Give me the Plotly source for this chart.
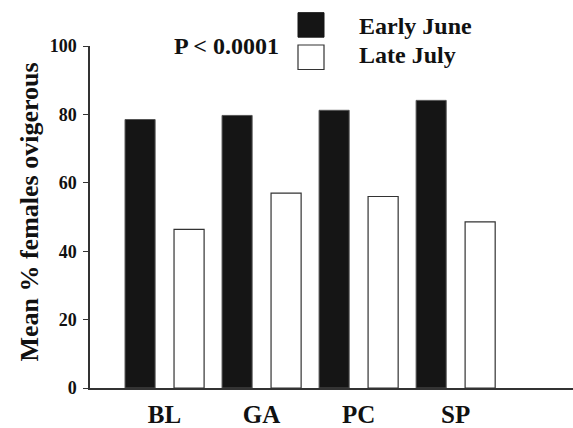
import plotly.graph_objects as go

sites = ["BL", "GA", "PC", "SP"]
early_june = [78.5, 79.7, 81.2, 84.1]
late_july = [46.4, 57.0, 56.0, 48.6]
y_ticks = [0, 20, 40, 60, 80, 100]

FONT = "Liberation Serif, Times New Roman, serif"

fig = go.Figure()
fig.add_trace(go.Bar(x=sites, y=early_june, name="Early June",
                     offset=-0.407, width=0.31,
                     marker=dict(color="#151515", line=dict(color="#555555", width=1)),
                     showlegend=False))
fig.add_trace(go.Bar(x=sites, y=late_july, name="Late July",
                     offset=0.098, width=0.31,
                     marker=dict(color="white", line=dict(color="#333333", width=1.2)),
                     showlegend=False))

W, H = 573, 428
L, R, T, B = 90, 0, 46, 33
pw, ph = W - L - R, H - T - B

def px(xp):
    return (xp - L) / pw

def py(yp):
    return (H - B - yp) / ph

fig.update_layout(
    width=W, height=H,
    margin=dict(l=L, r=R, t=T, b=B),
    plot_bgcolor="white", paper_bgcolor="white",
    barmode="overlay",
    font=dict(family=FONT, color="black"),
    xaxis=dict(range=[-0.768, 4.21], showline=True, linecolor="#333333", linewidth=1.5,
               ticks="", showgrid=False, zeroline=False, ticklabelstandoff=3,
               tickfont=dict(family=FONT, size=25, weight="bold", color="#111111")),
    yaxis=dict(range=[0, 100], tickvals=y_ticks, showline=True, linecolor="#333333",
               linewidth=1.5, ticks="outside", ticklen=5, tickcolor="#333333",
               tickwidth=1.2, showgrid=False, zeroline=False, ticklabelstandoff=3,
               tickfont=dict(family=FONT, size=18, weight="bold", color="#111111")),
    shapes=[
        dict(type="rect", xref="paper", yref="paper", x0=px(298), x1=px(324),
             y0=py(37), y1=py(12), fillcolor="#151515", line=dict(color="#151515", width=1)),
        dict(type="rect", xref="paper", yref="paper", x0=px(298), x1=px(324),
             y0=py(70), y1=py(45), fillcolor="white", line=dict(color="#333333", width=1.2)),
    ],
    annotations=[
        dict(text="Mean % females ovigerous", xref="paper", yref="paper",
             x=px(30), y=py(216), textangle=-90, showarrow=False,
             xanchor="center", yanchor="middle",
             font=dict(family=FONT, size=26, weight="bold", color="#111111")),
        dict(text="P < 0.0001", xref="paper", yref="paper", x=px(226.5), y=py(46),
             showarrow=False, xanchor="center", yanchor="middle",
             font=dict(family=FONT, size=24, weight="bold", color="#111111")),
        dict(text="Early June", xref="paper", yref="paper", x=px(357), y=py(26),
             showarrow=False, xanchor="left", yanchor="middle",
             font=dict(family=FONT, size=24, weight="bold", color="#111111")),
        dict(text="Late July", xref="paper", yref="paper", x=px(357), y=py(55),
             showarrow=False, xanchor="left", yanchor="middle",
             font=dict(family=FONT, size=24, weight="bold", color="#111111")),
    ],
)

fig.write_html("out.html", config={"displayModeBar": False},
               post_script="document.body.style.margin='0';document.body.style.overflow='hidden';")
